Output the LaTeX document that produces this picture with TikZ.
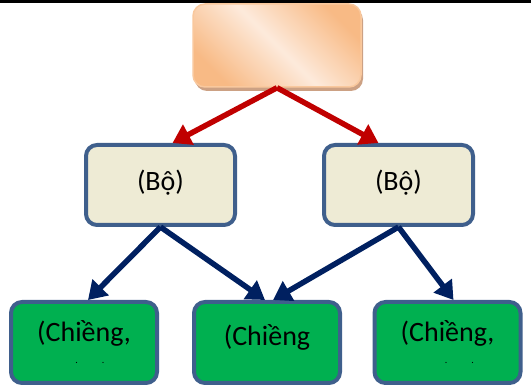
\documentclass[tikz,border=0pt]{standalone}
\usepackage{fontspec}
\setmainfont{Carlito}
\usetikzlibrary{arrows.meta,shadows}
\definecolor{vien}{HTML}{3F5F8C}
\definecolor{doDam}{HTML}{C00000}
\definecolor{xanhDam}{HTML}{002060}
\definecolor{xanhLa}{HTML}{00B050}
\definecolor{kem}{HTML}{EEEBD5}
\definecolor{camNhat}{HTML}{FDEADB}
\definecolor{camDam}{HTML}{F8BA85}
\definecolor{bong}{HTML}{CCA184}
\tikzset{>={Triangle[length=18pt,width=22pt]}}
\tikzset{
  hop/.style={rectangle,rounded corners=11pt,line width=4pt,draw=vien,align=center,
    font=\fontsize{28}{32}\selectfont},
  bo/.style={hop,fill=kem,minimum width=149pt,minimum height=80pt},
  chieng/.style={hop,fill=xanhLa,minimum width=146pt,minimum height=81pt},
  capTren/.style={rectangle,rounded corners=12pt,line width=1.5pt,draw=camDam!80,
    top color=camDam,bottom color=camDam,middle color=camNhat,shading angle=-45,
    minimum width=168pt,minimum height=83pt,
    drop shadow={shadow xshift=2pt,shadow yshift=-4pt,fill=bong,opacity=1}},
  muiDo/.style={->,line width=5.5pt,doDam},
  muiXanh/.style={->,line width=5.5pt,xanhDam}
}
\begin{document}
\begin{tikzpicture}[x=1pt,y=-1pt]
  \useasboundingbox (0,0) rectangle (531,387);
  \draw[line width=2.5pt] (0,1.5) -- (531,1.5);
  % hang tren
  \node[capTren] (dau) at (277,45.5) {};
  % hang giua
  \node[bo] (bo1) at (160.5,185) {\raisebox{9pt}{(Bộ)}};
  \node[bo] (bo2) at (398.5,185) {\raisebox{9pt}{(Bộ)}};
  % hang duoi
  \node[chieng] (xa1) at (84,342.5) {(Chiềng,\\[-10pt]{\fontsize{10}{10}\selectfont\hspace*{12pt}.\hspace{24pt}.}};
  \node[chieng] (xa2) at (267,342.5) {\raisebox{14pt}{(Chiềng}};
  \node[chieng] (xa3) at (447.5,342.5) {(Chiềng,\\[-10pt]{\fontsize{10}{10}\selectfont\hspace*{24pt}.\hspace{24pt}.}};
  % mui ten
  \draw[muiDo] (dau.south) -- ([xshift=12pt]bo1.north);
  \draw[muiDo] (dau.south) -- ([xshift=-20pt]bo2.north);
  \draw[muiXanh] (bo1.south) -- ([xshift=4pt]xa1.north);
  \draw[muiXanh] (bo1.south) -- ([xshift=-2pt]xa2.north);
  \draw[muiXanh] (bo2.south) -- ([xshift=6pt]xa2.north);
  \draw[muiXanh] (bo2.south) -- ([xshift=6pt]xa3.north);
\end{tikzpicture}
\end{document}
